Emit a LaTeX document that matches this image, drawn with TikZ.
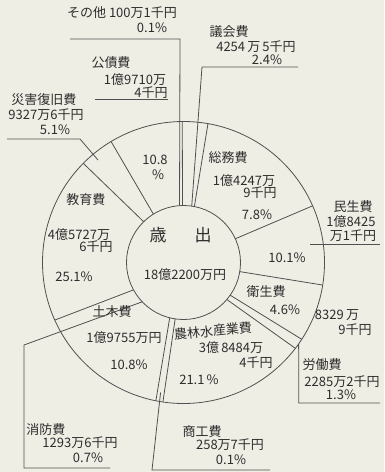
\documentclass[tikz,border=0pt]{standalone}
\usepackage{fontspec}
\usetikzlibrary{calc}
\newfontfamily\jp{Noto Sans CJK JP}
\definecolor{bgc}{RGB}{239,238,229}
\definecolor{linec}{RGB}{80,80,80}
\definecolor{txtc}{RGB}{45,45,45}
\newcommand\radln[2]{\draw[ln] ($(O)+(#1:57)$) -- ($(O)+(#2:141)$);}
\begin{document}
\begin{tikzpicture}[x=1pt,y=-1pt,
  lbl/.style={font=\jp\fontsize{13}{15}\selectfont, inner sep=0pt, text=txtc},
  big/.style={font=\jp\fontsize{17}{19}\selectfont, inner sep=0pt, text=txtc},
  ln/.style={draw=linec, line width=0.8pt}]
\fill[bgc] (0,0) rectangle (384,472);
\useasboundingbox (0,0) rectangle (384,472);
\coordinate (O) at (183.5,262.5);
% circles
\draw[ln] (O) circle[radius=141];
\draw[ln] (O) circle[radius=57];
% slice boundaries
\radln{-91}{-90.5}
\radln{-79}{-80}
\radln{-24.6}{-23.7}
\radln{9.2}{9.2}
\radln{35}{33}
\radln{40.5}{37.5}
\radln{98.4}{98.4}
\radln{104}{101.3}
\radln{151.3}{155.9}
\radln{-134.3}{-135.3}
\radln{-121.9}{-120.9}
% leaders
\coordinate (sonoA) at (180,39);
\coordinate (sonoB) at (70,39);
\draw[ln] ($(O)+(-94:57)$) -- (sonoA) -- (sonoB);
\coordinate (gikaiA) at (202,67);
\coordinate (gikaiB) at (298,67);
\draw[ln] ($(O)+(-81.7:57)$) -- (gikaiA) -- (gikaiB);
\coordinate (kosaiA) at (95,99);
\coordinate (kosaiB) at (168,99);
\draw[ln] (kosaiA) -- (kosaiB);
\coordinate (saigaiA) at (98,160);
\coordinate (saigaiB) at (80,139);
\coordinate (saigaiC) at (7,139);
\draw[ln] (saigaiA) -- (saigaiB) -- (saigaiC);
\coordinate (minA) at (310,244);
\coordinate (minB) at (380,244);
\draw[ln] (minA) -- (minB);
\coordinate (roA) at (298.7,403);
\coordinate (roB) at (380,403);
\draw[ln] ($(O)+(35.25:141)$) -- (roA) -- (roB);
\coordinate (shoA) at (152,470);
\coordinate (shoB) at (270,470);
\draw[ln] ($(O)+(100:132)$) -- (shoA) -- (shoB);
\coordinate (shoboA) at (24,345);
\coordinate (shoboB) at (24,468);
\coordinate (shoboC) at (110,468);
\draw[ln] ($(O)+(136.4:57)$) -- (shoboA) -- (shoboB) -- (shoboC);
% center
\node[big] (sai) at (158,235) {歳};
\node[big] (shutsu) at (203,235) {出};
\node[lbl] (total) at (185,275) {18億2200万円};
% labels
\node[lbl] (n1a) at (122,13) {その他 100万1千円};
\node[lbl] (n1b) at (152,28) {0.1\%};
\node[lbl] (n2a) at (229,32) {議会費};
\node[lbl] (n2b) at (256,47) {4254\,万\,5千円};
\node[lbl] (n2c) at (267,60) {2.4\%};
\node[lbl] (n3a) at (111,63) {公債費};
\node[lbl] (n3b) at (135,80) {1億9710万};
\node[lbl] (n3c) at (151,93) {4千円};
\node[lbl] (n4a) at (44,100) {災害復旧費};
\node[lbl] (n4b) at (46,115) {9327万6千円};
\node[lbl] (n4c) at (55,130) {5.1\%};
\node[lbl] (n5a) at (155,160) {10.8};
\node[lbl] (n5b) at (158,175) {\%};
\node[lbl] (n6a) at (228,158) {総務費};
\node[lbl] (n6b) at (244,181) {1億4247万};
\node[lbl] (n6c) at (260,193) {9千円};
\node[lbl] (n6d) at (257,215) {7.8\%};
\node[lbl] (n7a) at (353,207) {民生費};
\node[lbl] (n7b) at (351,222) {1億8425};
\node[lbl] (n7c) at (353,236) {万1千円};
\node[lbl] (n7d) at (287,258) {10.1\%};
\node[lbl] (n8a) at (266,292) {衛生費};
\node[lbl] (n8b) at (285,310) {4.6\%};
\node[lbl] (n8c) at (337,315) {8329\,万};
\node[lbl] (n8d) at (355,330) {9千円};
\node[lbl] (n9a) at (322,365) {労働費};
\node[lbl] (n9b) at (342,382) {2285万2千円};
\node[lbl] (n9c) at (341,395) {1.3\%};
\node[lbl,rotate=6] (n10a) at (213,331) {農林水産業費};
\node[lbl] (n10b) at (231,348) {3億\,8484万};
\node[lbl] (n10c) at (256,363) {4千円};
\node[lbl] (n10d) at (199,380) {21.1\,\%};
\node[lbl] (n11a) at (202,432) {商工費};
\node[lbl] (n11b) at (230,445) {258万7千円};
\node[lbl] (n11c) at (231,460) {0.1\%};
\node[lbl] (n12a) at (112,312) {土木費};
\node[lbl] (n12b) at (124,338) {1億9755万円};
\node[lbl] (n12c) at (129,365) {10.8\%};
\node[lbl] (n13a) at (46,430) {消防費};
\node[lbl] (n13b) at (80,443) {1293万6千円};
\node[lbl] (n13c) at (88,458) {0.7\%};
\node[lbl] (n14a) at (86,200) {教育費};
\node[lbl] (n14b) at (79,235) {4億5727万};
\node[lbl] (n14c) at (96,247) {6千円};
\node[lbl] (n14d) at (74,277) {25.1\%};
\end{tikzpicture}
\end{document}
